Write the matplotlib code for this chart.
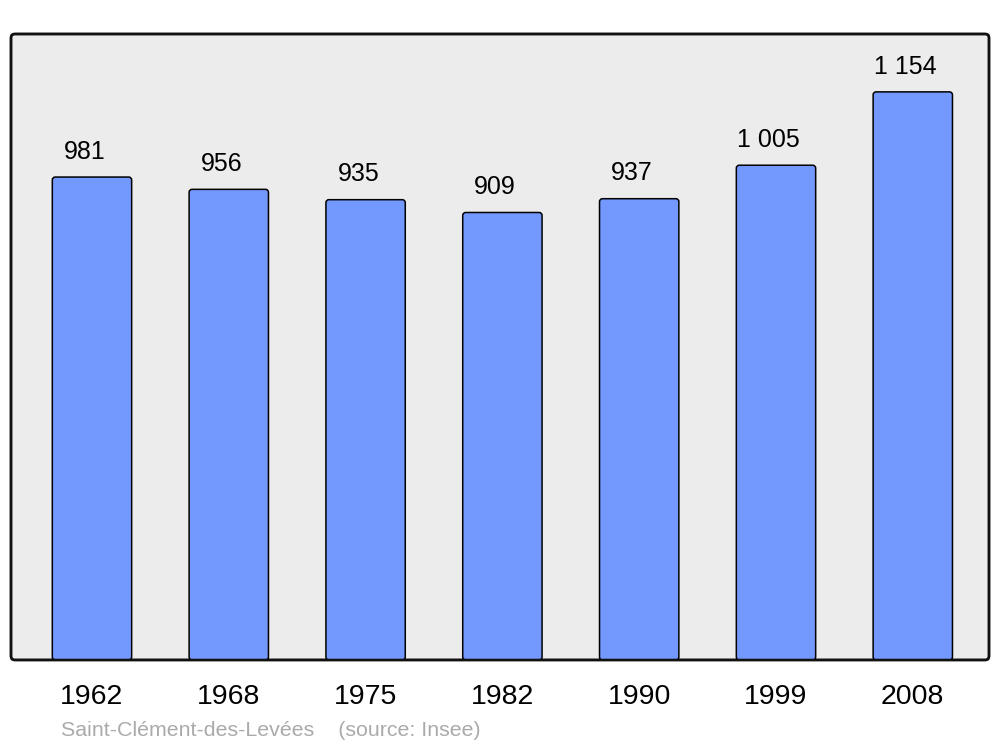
import matplotlib.pyplot as plt
from matplotlib.patches import FancyBboxPatch

plt.rcParams['font.family'] = ['Liberation Sans', 'DejaVu Sans']

years = ['1962', '1968', '1975', '1982', '1990', '1999', '2008']
population = [981, 956, 935, 909, 937, 1005, 1154]
value_labels = ['981', '956', '935', '909', '937', '1 005', '1 154']
commune = 'Saint-Clément-des-Levées'
source = '(source: Insee)'

bar_color = '#7399ff'
bg_color = '#ececec'


def main():
    fig = plt.figure(figsize=(10, 7.47), dpi=100)
    ax = fig.add_axes([0.011, 0.1165, 0.978, 0.838])
    ax.set_facecolor('none')

    x = list(range(len(years)))
    ax.set_xlim(-0.592, 6.557)
    ax.set_ylim(0, 1271.6)

    bars = ax.bar(x, population, width=0.58, color=bar_color)

    # px per data unit, for rounded corners with the right aspect
    px_x = 0.978 * 1000 / (6.557 + 0.592)
    px_y = 0.838 * 747 / 1271.6
    for b in bars:
        b.set_visible(False)
        rb = FancyBboxPatch((b.get_x(), b.get_y()), b.get_width(), b.get_height(),
                            boxstyle='round,pad=0,rounding_size=%f' % (3.0 / px_x),
                            mutation_aspect=px_x / px_y,
                            facecolor=bar_color, edgecolor='black',
                            linewidth=1.1, zorder=2, clip_on=False)
        ax.add_patch(rb)

    for xi, val, lab in zip(x, population, value_labels):
        ax.annotate(lab, xy=(xi, val), xytext=(-5.2, 18.2),
                    textcoords='offset points', ha='center', va='center',
                    fontsize=18, color='black')

    # rounded frame around the plot area
    aspect = 0.978 * 1000 / (0.838 * 747)
    frame = FancyBboxPatch((0, 0), 1, 1, transform=ax.transAxes,
                           boxstyle='round,pad=0,rounding_size=0.004',
                           mutation_aspect=aspect,
                           facecolor=bg_color, edgecolor='#111111',
                           linewidth=1.8, zorder=0, clip_on=False)
    ax.add_patch(frame)
    frame2 = FancyBboxPatch((0, 0), 1, 1, transform=ax.transAxes,
                            boxstyle='round,pad=0,rounding_size=0.004',
                            mutation_aspect=aspect,
                            facecolor='none', edgecolor='#111111',
                            linewidth=1.8, zorder=3, clip_on=False)
    ax.add_patch(frame2)

    for s in ax.spines.values():
        s.set_visible(False)

    ax.set_xticks(x)
    ax.set_xticklabels(years, fontsize=20.5)
    ax.tick_params(axis='x', length=0, pad=17)
    ax.set_yticks([])

    fig.text(0.061, 1 - 730 / 747, commune + '    ' + source,
             fontsize=15.4, color='#aaaaaa', ha='left', va='center')

    fig.savefig('out.png', dpi=100)


if __name__ == '__main__':
    main()
